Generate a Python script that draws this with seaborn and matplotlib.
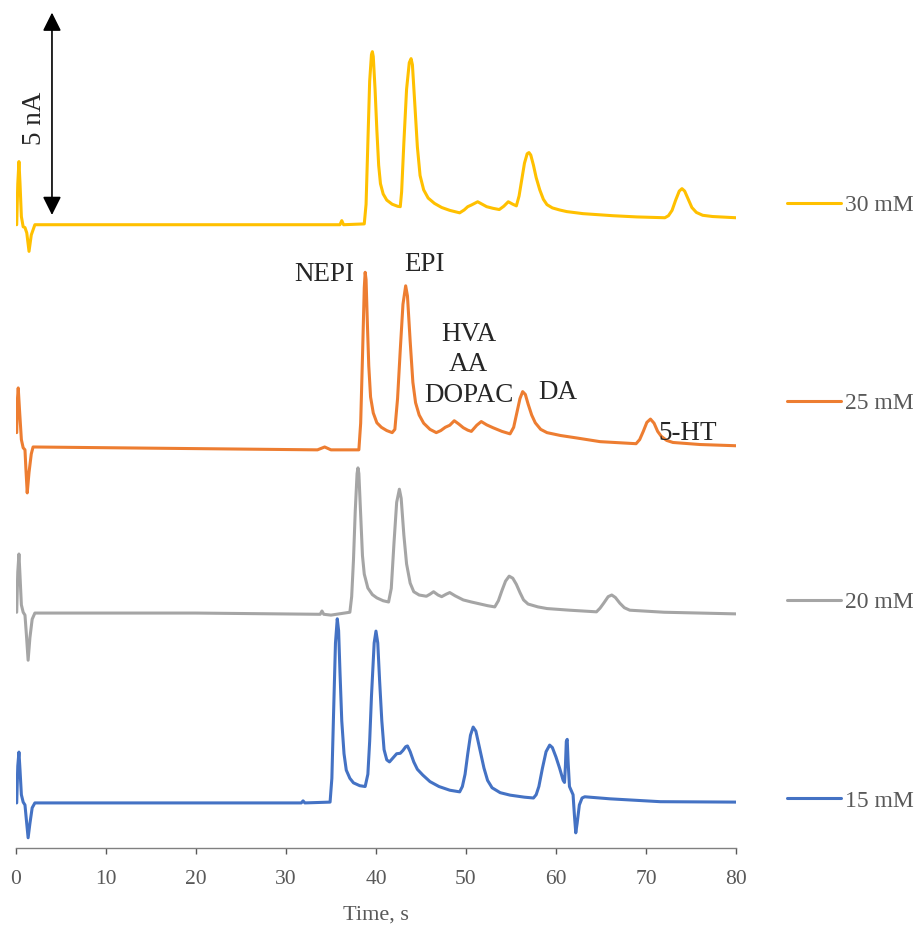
import numpy as np
import pandas as pd
import seaborn as sns
import matplotlib.pyplot as plt

# 크로마토그램 데이터 (시간 s, 기준선 대비 전류 nA)
labels = ['30 mM', '25 mM', '20 mM', '15 mM']
offsets = [15.20, 9.76, 5.73, 1.10]
colors = ['#FFC000', '#ED7D31', '#A5A5A5', '#4472C4']

t_30 = [0.08, 0.2, 0.33, 0.45, 0.6, 0.8, 1.0, 1.2, 1.45, 1.7, 2.1, 20, 36.0, 36.2, 36.4,
        38.7, 38.9, 39.1, 39.3, 39.5, 39.6, 39.7, 39.9, 40.1, 40.3, 40.5, 40.8, 41.2, 41.8, 42.4, 42.7,
        42.85, 43.1, 43.4, 43.7, 43.9, 44.05, 44.3, 44.6, 44.9, 45.3, 45.8, 46.5, 47.3, 48.2, 49.3,
        49.8, 50.2, 50.6, 51.3, 51.8, 52.3, 53.0, 53.7, 54.2, 54.7, 55.2, 55.6, 55.9, 56.2, 56.5, 56.8,
        57.0, 57.2, 57.5, 57.8, 58.2, 58.6, 59.0, 59.6, 60.4, 61.2, 63.0, 66.3, 69.0, 72.1, 72.5, 72.9,
        73.3, 73.7, 74.0, 74.3, 74.7, 75.1, 75.6, 76.3, 77.4, 80.0]
i_30 = [0.0, 1.0, 1.54, 1.0, 0.2, -0.05, -0.07, -0.2, -0.65, -0.25, 0.0, 0.0, 0.0, 0.10, 0.0,
        0.02, 0.5, 2.0, 3.5, 4.15, 4.22, 4.1, 3.3, 2.3, 1.45, 1.0, 0.75, 0.6, 0.5, 0.45, 0.44,
        0.8, 2.0, 3.3, 3.95, 4.05, 3.9, 3.0, 1.9, 1.2, 0.85, 0.65, 0.52, 0.42, 0.35, 0.29,
        0.36, 0.44, 0.48, 0.56, 0.5, 0.44, 0.4, 0.37, 0.45, 0.56, 0.5, 0.46, 0.7, 1.1, 1.5, 1.73,
        1.76, 1.7, 1.45, 1.15, 0.85, 0.62, 0.49, 0.41, 0.36, 0.32, 0.27, 0.22, 0.19, 0.17, 0.22, 0.35,
        0.6, 0.82, 0.88, 0.82, 0.62, 0.42, 0.3, 0.23, 0.20, 0.17]

t_25 = [0.08, 0.17, 0.25, 0.4, 0.6, 0.8, 1.0, 1.1, 1.25, 1.45, 1.7, 1.9, 20, 33.5, 34.3, 35.0,
        38.1, 38.3, 38.5, 38.7, 38.8, 38.9, 39.05, 39.2, 39.4, 39.7, 40.1, 40.6, 41.2, 41.8, 42.1, 42.4,
        42.7, 43.0, 43.3, 43.5, 43.8, 44.1, 44.4, 44.8, 45.3, 46.0, 46.7, 47.2, 47.7, 48.2, 48.7, 49.2,
        49.7, 50.2, 50.6, 51.2, 51.7, 52.3, 53.0, 54.0, 54.9, 55.3, 55.7, 56.0, 56.3, 56.6, 56.9, 57.3,
        57.7, 58.3, 59.0, 60.5, 62.3, 64.9, 68.9, 69.3, 69.7, 70.1, 70.5, 70.9, 71.3, 71.7, 72.3, 73.0,
        76.0, 80.0]
i_25 = [0.37, 1.2, 1.46, 0.9, 0.2, 0.0, -0.05, -0.5, -1.10, -0.6, -0.15, 0.02, -0.02, -0.05, 0.02, -0.05,
        -0.05, 0.6, 2.2, 3.9, 4.28, 4.1, 3.0, 2.0, 1.24, 0.85, 0.61, 0.5, 0.42, 0.37, 0.45, 1.2,
        2.39, 3.5, 3.95, 3.7, 2.6, 1.6, 1.1, 0.8, 0.6, 0.45, 0.37, 0.42, 0.5, 0.55, 0.66, 0.58,
        0.49, 0.43, 0.40, 0.55, 0.64, 0.56, 0.49, 0.4, 0.34, 0.5, 0.9, 1.2, 1.37, 1.3, 1.07, 0.8,
        0.61, 0.45, 0.37, 0.3, 0.24, 0.15, 0.10, 0.2, 0.4, 0.62, 0.70, 0.6, 0.4, 0.28, 0.18, 0.13,
        0.08, 0.05]

t_20 = [0.08, 0.2, 0.33, 0.45, 0.6, 0.8, 1.0, 1.15, 1.35, 1.55, 1.8, 2.1, 20, 33.8, 34.0, 34.2, 35.0,
        37.1, 37.3, 37.5, 37.7, 37.9, 38.0, 38.1, 38.3, 38.5, 38.7, 39.1, 39.6, 40.1, 40.8, 41.4, 41.7,
        42.0, 42.3, 42.6, 42.8, 43.1, 43.4, 43.8, 44.2, 44.8, 45.6, 46.0, 46.4, 46.9, 47.3, 47.8, 48.2,
        48.8, 49.7, 50.6, 51.6, 52.4, 53.2, 53.6, 54.0, 54.4, 54.8, 55.2, 55.6, 56.0, 56.4, 56.9, 58.0,
        59.0, 61.5, 64.5, 64.9, 65.3, 65.8, 66.2, 66.6, 67.1, 67.6, 68.2, 72.0, 80.0]
i_20 = [0.02, 1.0, 1.44, 0.9, 0.2, 0.02, -0.05, -0.5, -1.15, -0.6, -0.15, 0.0, 0.0, -0.03, 0.05, -0.03, -0.05,
        0.02, 0.4, 1.29, 2.5, 3.4, 3.54, 3.4, 2.4, 1.4, 0.95, 0.61, 0.45, 0.37, 0.3, 0.27, 0.6,
        1.7, 2.7, 3.02, 2.8, 1.9, 1.2, 0.73, 0.52, 0.44, 0.41, 0.46, 0.52, 0.44, 0.40, 0.46, 0.50,
        0.42, 0.32, 0.27, 0.22, 0.18, 0.15, 0.3, 0.55, 0.78, 0.9, 0.85, 0.7, 0.5, 0.32, 0.22, 0.15,
        0.11, 0.07, 0.03, 0.12, 0.24, 0.4, 0.44, 0.38, 0.24, 0.13, 0.07, 0.02, -0.02]

t_15 = [0.08, 0.2, 0.33, 0.45, 0.6, 0.8, 1.0, 1.15, 1.35, 1.55, 1.8, 2.1, 20, 31.7, 31.9, 32.1,
        34.9, 35.1, 35.3, 35.5, 35.7, 35.85, 36.0, 36.2, 36.45, 36.7, 37.1, 37.5, 38.2, 38.8, 39.1, 39.3,
        39.5, 39.8, 40.0, 40.2, 40.4, 40.65, 40.9, 41.2, 41.5, 41.9, 42.3, 42.7, 43.0, 43.3, 43.5, 43.8,
        44.2, 44.6, 45.2, 46.0, 47.0, 48.2, 49.3, 49.6, 49.9, 50.2, 50.5, 50.8, 51.1, 51.4, 51.7, 52.0,
        52.4, 52.9, 53.8, 54.9, 56.5, 57.5, 57.8, 58.1, 58.5, 58.9, 59.3, 59.6, 60.0, 60.4, 60.8, 60.95,
        61.05, 61.15, 61.25, 61.35, 61.5, 61.7, 61.9, 62.05, 62.2, 62.35, 62.6, 62.9, 63.2, 66.0, 71.6, 80.0]
i_15 = [0.0, 0.9, 1.24, 0.8, 0.2, 0.02, -0.05, -0.4, -0.85, -0.5, -0.12, 0.0, 0.0, 0.0, 0.05, 0.0,
        0.02, 0.6, 2.27, 3.9, 4.49, 4.2, 3.2, 2.0, 1.2, 0.80, 0.6, 0.49, 0.42, 0.40, 0.7, 1.5,
        2.6, 3.9, 4.19, 3.9, 3.0, 2.0, 1.3, 1.05, 1.00, 1.1, 1.2, 1.21, 1.28, 1.37, 1.39, 1.25,
        1.0, 0.82, 0.68, 0.52, 0.4, 0.31, 0.27, 0.4, 0.7, 1.2, 1.65, 1.85, 1.75, 1.45, 1.15, 0.85,
        0.55, 0.37, 0.25, 0.19, 0.14, 0.12, 0.2, 0.4, 0.85, 1.25, 1.41, 1.35, 1.12, 0.85, 0.55, 0.5,
        0.9, 1.5, 1.55, 1.0, 0.4, 0.30, 0.2, -0.3, -0.73, -0.5, -0.05, 0.12, 0.15, 0.1, 0.03, 0.02]

times = [t_30, t_25, t_20, t_15]
currents = [i_30, i_25, i_20, i_15]

# 피크 이름
peak_names = ['NEPI', 'EPI', 'HVA\nAA\nDOPAC', 'DA', '5-HT']
peak_x = [34.3, 45.4, 50.3, 60.2, 74.6]
peak_y = [13.98, 14.22, 11.78, 11.1, 10.12]

frames = []
for lab, off, t, i in zip(labels, offsets, times, currents):
    frames.append(pd.DataFrame({'Time': t, 'Current': np.array(i) + off, 'Conc': lab}))
df = pd.concat(frames, ignore_index=True)

sns.set_style('white')
plt.rcParams['font.family'] = ['Liberation Serif', 'DejaVu Serif']

fig = plt.figure(figsize=(9.18, 9.26), dpi=100)
ax = fig.add_axes([0.0174, 0.0842, 0.7843, 0.9158])

sns.lineplot(data=df, x='Time', y='Current', hue='Conc', hue_order=labels,
             palette=colors, linewidth=2.2, sort=False, estimator=None, ax=ax)

ax.set_xlim(0, 80)
ax.set_ylim(0, 20.68)
ax.set_xticks(range(0, 81, 10))
ax.set_yticks([])
ax.set_xlabel('Time, s', fontsize=16, color='#595959', labelpad=12)
ax.set_ylabel('')
ax.tick_params(axis='x', labelsize=15.5, colors='#595959', length=4, width=1,
               direction='out', bottom=True, pad=12)
for s in ['top', 'right', 'left']:
    ax.spines[s].set_visible(False)
ax.spines['bottom'].set_color('#808080')
ax.spines['bottom'].set_linewidth(1)

# 5 nA 스케일 화살표
ax.annotate('', xy=(4.0, 15.37), xytext=(4.0, 20.44),
            arrowprops=dict(arrowstyle='<|-|>', color='black', lw=1.2, mutation_scale=28))
ax.text(2.1, 17.8, '5 nA', rotation=90, ha='center', va='center', fontsize=19.5)

for name, x, y in zip(peak_names, peak_x, peak_y):
    ax.text(x, y, name, ha='center', va='center', fontsize=19.5, linespacing=1.3)

leg = ax.legend(loc='upper left', bbox_to_anchor=(1.042, 0.796), frameon=False,
                fontsize=17, handlelength=2.25, handletextpad=0.2, labelspacing=7.5)
for txt in leg.get_texts():
    txt.set_color('#595959')

fig.savefig('out.png', dpi=100)
